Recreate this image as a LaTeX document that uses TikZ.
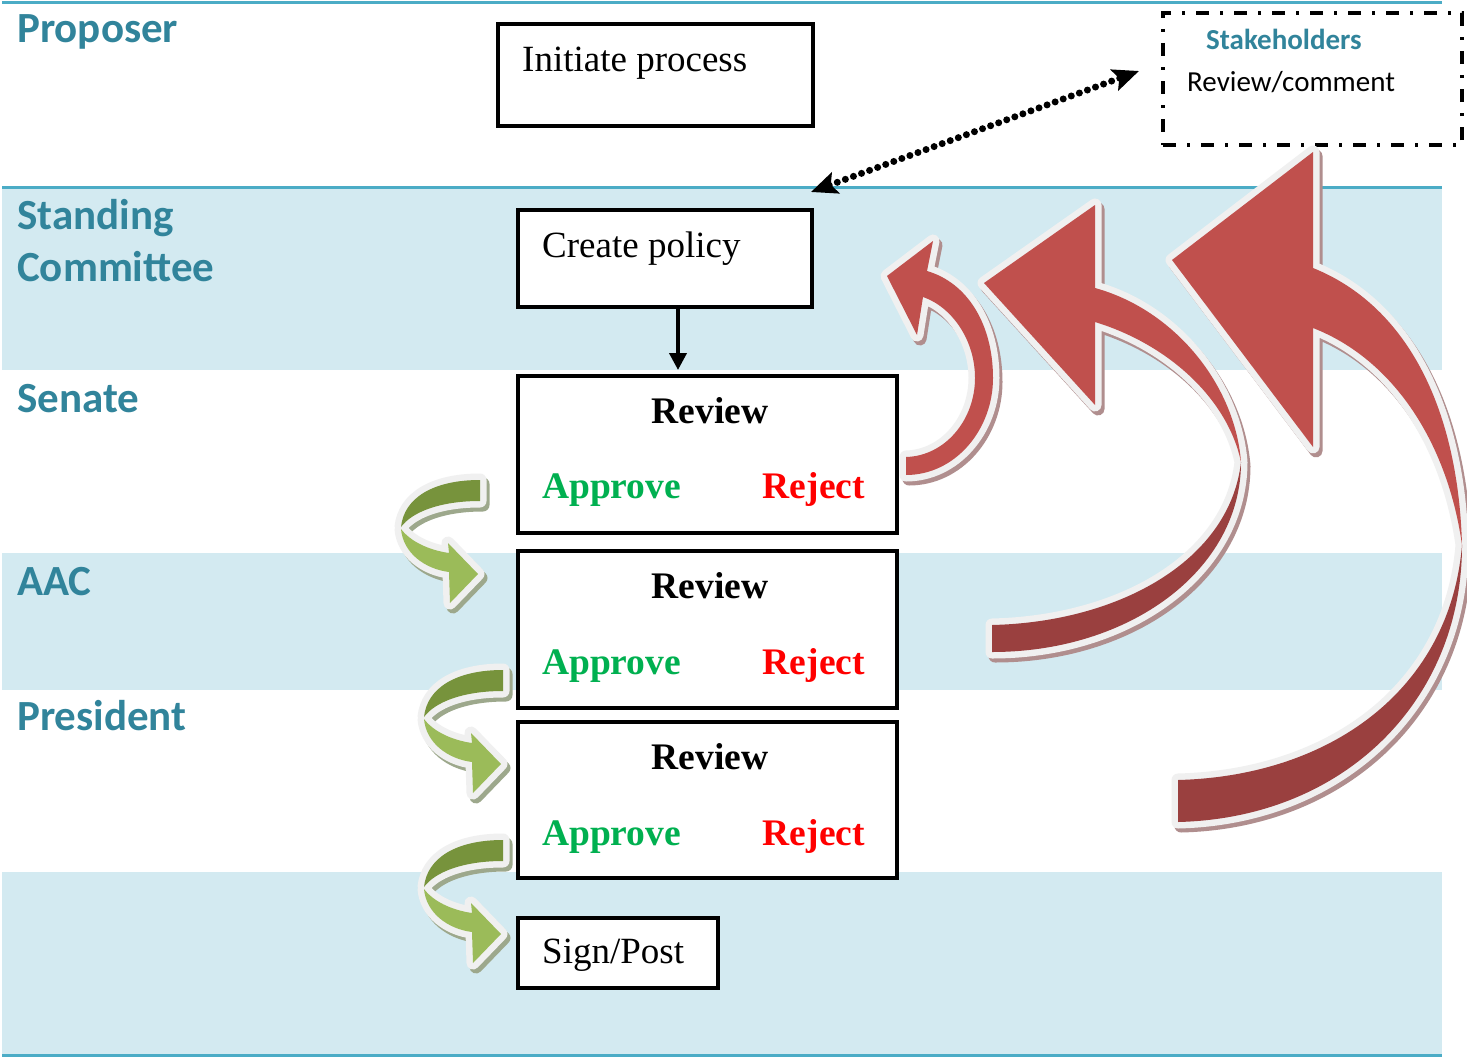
\documentclass[tikz,border=0pt]{standalone}
\usepackage{fontspec}
\setmainfont{Liberation Serif}
\newfontfamily\calibri{Carlito}
\usetikzlibrary{arrows.meta}
\definecolor{lanefill}{HTML}{D3EAF1}
\definecolor{laneline}{HTML}{4BACC6}
\definecolor{lanetext}{HTML}{31849B}
\definecolor{apgreen}{HTML}{00B050}
\definecolor{rjred}{HTML}{FF0000}
\definecolor{redlight}{HTML}{C0504D}
\definecolor{reddark}{HTML}{9A403F}
\definecolor{redshadow}{HTML}{B08E8E}
\definecolor{gdark}{HTML}{77933C}
\definecolor{glight}{HTML}{9BBB59}
\definecolor{gshadow}{HTML}{9DA88C}
\definecolor{ribbonedge}{HTML}{F0F0F0}
\tikzset{
  lanelabel/.style={font=\calibri\bfseries\fontsize{43}{50}\selectfont, text=lanetext, inner sep=0, anchor=base west},
  procbox/.style={draw=black, fill=white, line width=3.2pt, inner sep=0},
  plaintext/.style={font=\fontsize{37}{44}\selectfont, inner sep=0, anchor=base west},
  boldtext/.style={font=\bfseries\fontsize{37.5}{44}\selectfont, inner sep=0},
  ribbonwhite/.style={fill=ribbonedge, draw=ribbonedge, line width=13pt, line join=round},
  ribbonshadow/.style={fill=#1, draw=#1, line width=13pt, line join=round, shift={(3,4)}},
}
% green curved arrow pieces (first arrow, absolute)
\def\GA{(480,480) .. controls (433,480) and (404,498) .. (401,527) .. controls (412,512) and (440,501) .. (480,501) -- cycle}
\def\GB{(401,529) .. controls (410,541) and (428,550) .. (449,553) -- (448,543) -- (478,574) -- (450,603) -- (449,572) .. controls (425,569) and (403,553) .. (401,529) -- cycle}
% red arrows
\def\RaUp{(887,276) -- (933,241) -- (927,271) .. controls (968,283) and (993,325) .. (993,378) .. controls (993,430) and (955,475) .. (906,475) -- (906,457) .. controls (945,456) and (975,420) .. (975,378) .. controls (975,340) and (952,307) .. (923,297) -- (917,335) -- cycle}
\def\RbUp{(984,283) -- (1095,205) -- (1095,288) .. controls (1175,310) and (1235,385) .. (1241,462) .. controls (1228,400) and (1170,345) .. (1095,322) -- (1095,405) -- cycle}
\def\RbLo{(1241,462) .. controls (1241,570) and (1130,652) .. (992,652) -- (992,625) .. controls (1120,622) and (1230,560) .. (1241,462) -- cycle}
\def\RcUp{(1172,260) -- (1313,152) -- (1313,268) .. controls (1405,305) and (1458,405) .. (1462,545) .. controls (1448,445) and (1395,360) .. (1313,328) -- (1313,447) -- cycle}
\def\RcLo{(1462,545) .. controls (1462,700) and (1345,818) .. (1178,822) -- (1178,780) .. controls (1330,776) and (1450,690) .. (1462,545) -- cycle}
\begin{document}
\begin{tikzpicture}[x=1pt,y=-1pt]
\useasboundingbox (0,0) rectangle (1467,1057);
\fill[white] (0,0) rectangle (1467,1057);
% lanes
\fill[lanefill] (2,188) rectangle (1442,370);
\fill[lanefill] (2,553) rectangle (1442,690);
\fill[lanefill] (2,872) rectangle (1442,1054);
\draw[laneline, line width=3pt] (2,2.5) -- (1442,2.5);
\draw[laneline, line width=3pt] (2,187) -- (1442,187);
\draw[laneline, line width=3pt] (2,1055.5) -- (1442,1055.5);
% lane labels
\node[lanelabel] (lprop) at (17,43) {Proposer};
\node[lanelabel] (lstand) at (17,229) {Standing};
\node[lanelabel] (lcomm) at (17,281) {Committee};
\node[lanelabel] (lsen) at (17,412) {Senate};
\node[lanelabel] (laac) at (17,595) {AAC};
\node[lanelabel] (lpres) at (17,730) {President};
% boxes
\node[procbox, minimum width=315pt, minimum height=102pt] (ip) at (655.5,75) {};
\node[plaintext] (iptxt) at (522,71) {Initiate process};
\node[procbox, minimum width=294pt, minimum height=97pt] (cp) at (665,258.5) {};
\node[plaintext] (cptxt) at (542,257) {Create policy};
\node[procbox, minimum width=379pt, minimum height=157pt] (r1) at (707.5,454.5) {};
\node[procbox, minimum width=379pt, minimum height=157pt] (r2) at (707.5,629.5) {};
\node[procbox, minimum width=379pt, minimum height=156pt] (r3) at (707.5,800) {};
\node[procbox, minimum width=200pt, minimum height=70pt] (sp) at (618,953) {};
\node[plaintext] (sptxt) at (542,963) {Sign/Post};
\foreach \n/\ry/\ay in {1/423/498, 2/598/674, 3/769/845}{
  \node[boldtext, anchor=base] (rv\n) at (710,\ry) {Review};
  \node[boldtext, anchor=base west, text=apgreen] (ap\n) at (542,\ay) {Approve};
  \node[boldtext, anchor=base east, text=rjred] (rj\n) at (865,\ay) {Reject};
}
% create -> review arrow
\coordinate (ax) at (678,0);
\draw[line width=3.8pt, -{Triangle[length=17pt,width=17pt]}, shorten >=4.4pt] (cp.south -| ax) -- (r1.north -| ax);
% stakeholders
\node[draw, line width=3.3pt, dash pattern=on 13pt off 11pt on 3pt off 11pt, minimum width=299pt, minimum height=132pt, inner sep=0] (sh) at (1312.5,79) {};
\node[font=\calibri\bfseries\fontsize{29}{34}\selectfont, text=lanetext, inner sep=0, anchor=base west] (shtitle) at (1206,50) {Stakeholders};
\node[font=\calibri\fontsize{29}{34}\selectfont, inner sep=0, anchor=base west] (shtxt) at (1187,92) {Review/comment};
% dotted double arrow
\coordinate (dA) at (811,192);
\coordinate (dB) at (1139,71);
\draw[line width=7pt, dash pattern=on 0pt off 8.6pt, line cap=round, {Stealth[length=26pt,width=22pt,inset=5pt]}-{Stealth[length=26pt,width=22pt,inset=5pt]}] (dA) -- (dB);
% green curved arrows
\foreach \dx/\dy in {0/0, 23/190, 23/360}{
  \begin{scope}[shift={(\dx,\dy)}]
    \path[ribbonshadow=gshadow] \GA \GB;
    \path[ribbonwhite] \GA \GB;
    \fill[gdark] \GA;
    \fill[glight] \GB;
  \end{scope}
}
% red curved arrows
\path[ribbonshadow=redshadow] \RaUp;
\path[ribbonwhite] \RaUp;
\fill[redlight] \RaUp;
\path[ribbonshadow=redshadow] \RbUp \RbLo;
\path[ribbonwhite] \RbUp \RbLo;
\fill[reddark] \RbLo;
\fill[redlight] \RbUp;
\path[ribbonshadow=redshadow] \RcUp \RcLo;
\path[ribbonwhite] \RcUp \RcLo;
\fill[reddark] \RcLo;
\fill[redlight] \RcUp;
\end{tikzpicture}
\end{document}
